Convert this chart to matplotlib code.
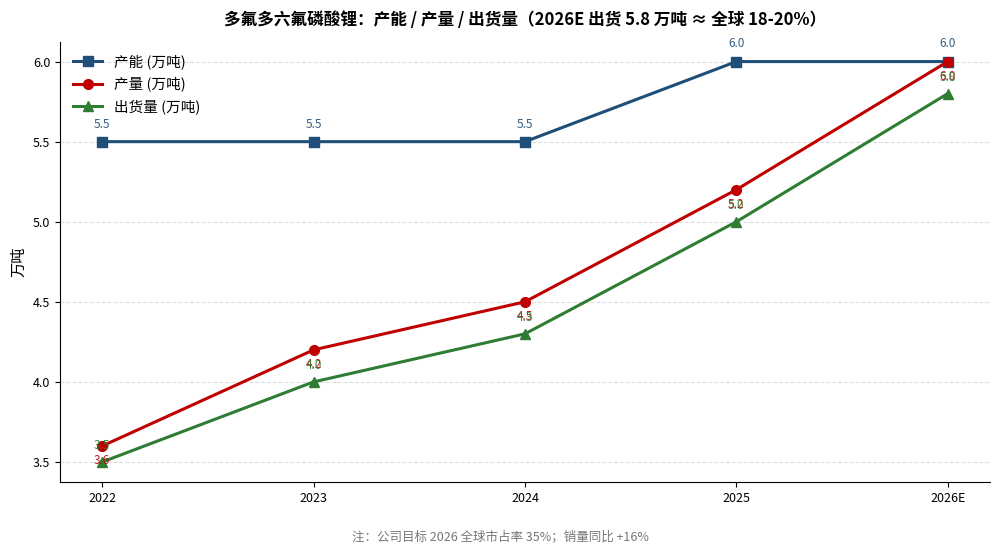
import matplotlib
matplotlib.use("Agg")
import matplotlib.pyplot as plt

plt.rcParams['font.family'] = ['Noto Sans CJK SC', 'DejaVu Sans']
plt.rcParams['axes.unicode_minus'] = False

years = ['2022', '2023', '2024', '2025', '2026E']
capacity = [5.5, 5.5, 5.5, 6.0, 6.0]
production = [3.6, 4.2, 4.5, 5.2, 6.0]
shipments = [3.5, 4.0, 4.3, 5.0, 5.8]

title = '多氟多六氟磷酸锂：产能 / 产量 / 出货量（2026E 出货 5.8 万吨 ≈ 全球 18-20%）'
note = '注：公司目标 2026 全球市占率 35%；销量同比 +16%'

c_blue = '#1f4e79'
c_red = '#c00000'
c_green = '#2e7d32'

fig, ax = plt.subplots(figsize=(10, 5.54), dpi=100)
fig.subplots_adjust(left=0.06, right=0.99, top=0.925, bottom=0.13)

x = list(range(len(years)))
ax.plot(x, capacity, color=c_blue, marker='s', lw=2.2, ms=7, label='产能 (万吨)')
ax.plot(x, production, color=c_red, marker='o', lw=2.2, ms=7, label='产量 (万吨)')
ax.plot(x, shipments, color=c_green, marker='^', lw=2.2, ms=7, label='出货量 (万吨)')

# value labels: capacity above, production below, shipments above
for i, v in enumerate(capacity):
    ax.annotate(f'{v:.1f}', (i, v), xytext=(0, 8), textcoords='offset points',
                ha='center', va='bottom', fontsize=8.5, color=c_blue, alpha=0.9)
for i, v in enumerate(production):
    ax.annotate(f'{v:.1f}', (i, v), xytext=(0, -6), textcoords='offset points',
                ha='center', va='top', fontsize=8.5, color=c_red, alpha=0.9)
for i, v in enumerate(shipments):
    ax.annotate(f'{v:.1f}', (i, v), xytext=(0, 7), textcoords='offset points',
                ha='center', va='bottom', fontsize=8.5, color=c_green, alpha=0.9)

ax.set_xticks(x)
ax.set_xticklabels(years)
ax.set_ylabel('万吨', fontsize=11)
ax.set_title(title, fontsize=12, fontweight='bold', pad=12)
ax.grid(axis='y', linestyle='--', color='#dddddd', lw=0.8)
ax.set_axisbelow(True)
for s in ['top', 'right']:
    ax.spines[s].set_visible(False)
ax.tick_params(labelsize=9)
ax.legend(loc='upper left', frameon=False, fontsize=10.5)

fig.text(0.5, 0.02, note, ha='center', va='bottom', fontsize=9, color='#777777')

fig.savefig('out.png', dpi=100)
